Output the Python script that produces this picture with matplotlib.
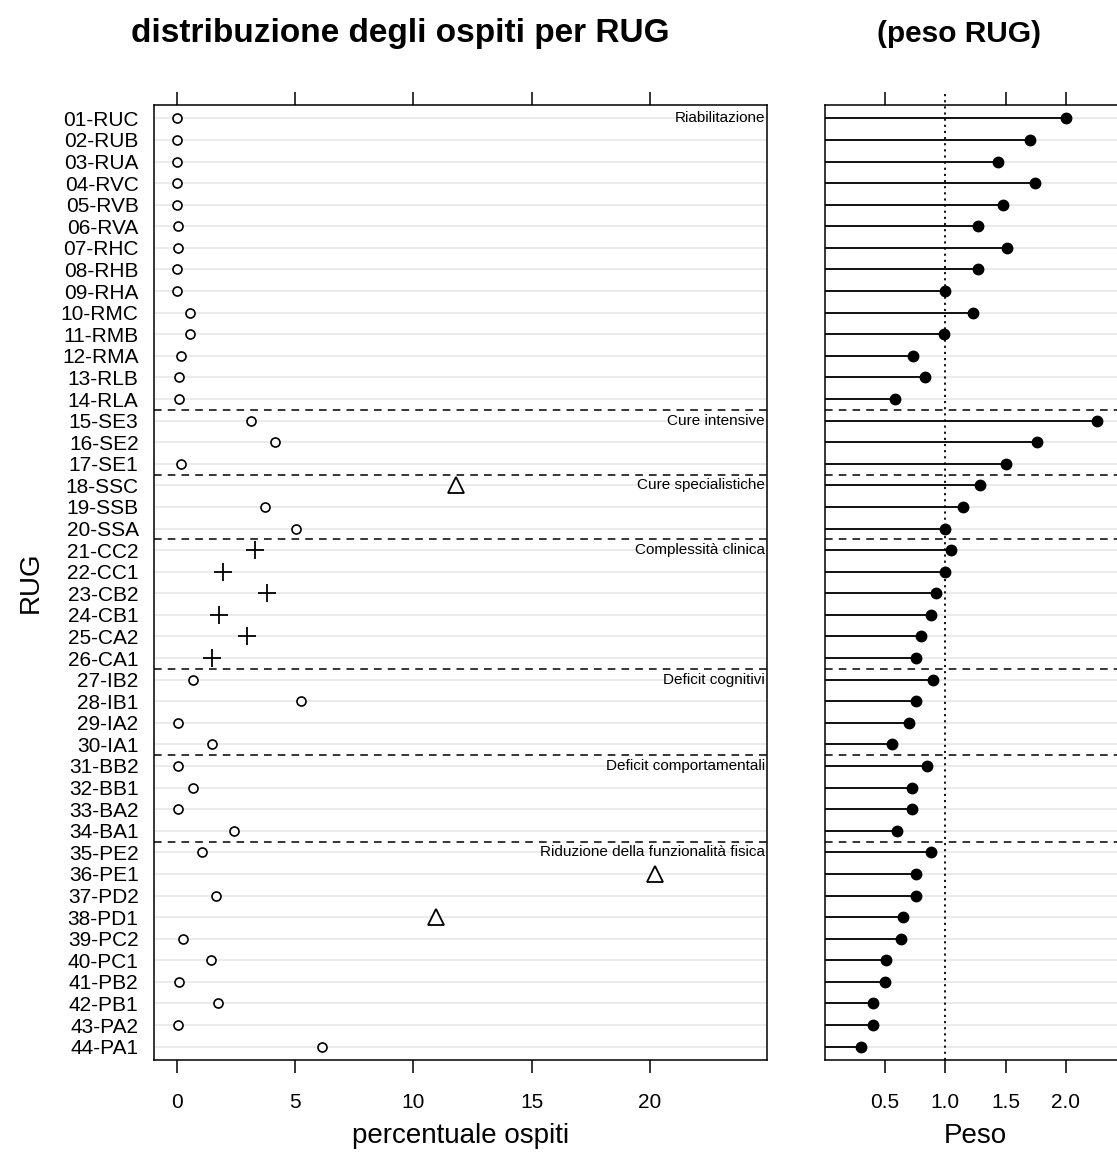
import matplotlib.pyplot as plt
import numpy as np

plt.rcParams['font.family'] = ['Liberation Sans', 'DejaVu Sans']

rug = ['01-RUC', '02-RUB', '03-RUA', '04-RVC', '05-RVB', '06-RVA', '07-RHC', '08-RHB',
       '09-RHA', '10-RMC', '11-RMB', '12-RMA', '13-RLB', '14-RLA', '15-SE3', '16-SE2',
       '17-SE1', '18-SSC', '19-SSB', '20-SSA', '21-CC2', '22-CC1', '23-CB2', '24-CB1',
       '25-CA2', '26-CA1', '27-IB2', '28-IB1', '29-IA2', '30-IA1', '31-BB2', '32-BB1',
       '33-BA2', '34-BA1', '35-PE2', '36-PE1', '37-PD2', '38-PD1', '39-PC2', '40-PC1',
       '41-PB2', '42-PB1', '43-PA2', '44-PA1']

percentuale = [0.0, 0.0, 0.0, 0.0, 0.0, 0.05, 0.05, 0.0, 0.0, 0.55, 0.55, 0.19, 0.12, 0.12,
               3.13, 4.16, 0.19, 11.8, 3.72, 5.06, 3.31, 1.95, 3.83, 1.80, 2.96, 1.50,
               0.71, 5.27, 0.06, 1.51, 0.05, 0.71, 0.05, 2.41, 1.07, 20.2, 1.66, 10.97,
               0.27, 1.44, 0.12, 1.74, 0.05, 6.14]

peso = [2.00, 1.70, 1.44, 1.74, 1.48, 1.27, 1.51, 1.27, 1.00, 1.23, 0.99, 0.73, 0.83, 0.58,
        2.26, 1.76, 1.50, 1.29, 1.15, 1.00, 1.05, 1.00, 0.92, 0.88, 0.80, 0.76, 0.90,
        0.76, 0.70, 0.56, 0.85, 0.72, 0.72, 0.60, 0.88, 0.76, 0.76, 0.65, 0.63, 0.51,
        0.50, 0.40, 0.40, 0.30]

gruppi = ['Riabilitazione', 'Cure intensive', 'Cure specialistiche', 'Complessità clinica',
          'Deficit cognitivi', 'Deficit comportamentali', 'Riduzione della funzionalità fisica']
inizio_gruppi = [1, 15, 18, 21, 27, 31, 35]

n = len(rug)
y = np.arange(1, n + 1)

fig = plt.figure(figsize=(11.17, 11.60), dpi=100)
ax1 = fig.add_axes([0.1377, 0.0862, 0.549, 0.8233])
ax2 = fig.add_axes([0.7384, 0.0862, 0.2699, 0.8233])

grigio = '#e6e6e6'
for ax in (ax1, ax2):
    for yy in y:
        ax.axhline(yy, color=grigio, lw=1.1, zorder=0)
    for g in inizio_gruppi[1:]:
        ax.axhline(g - 0.5, color='black', lw=1.1, ls=(0, (5, 4)), zorder=1)
    ax.set_ylim(n + 0.62, 0.38)
    for s in ax.spines.values():
        s.set_linewidth(1.1)
    ax.tick_params(axis='x', which='both', top=True, bottom=True, length=9.5,
                   width=1.1, labelsize=15, pad=14)
    ax.tick_params(axis='y', length=0, labelsize=15, pad=11)

# pannello sinistro
cc = inizio_gruppi[3]
cc_fine = inizio_gruppi[4]
for yy, v in zip(y, percentuale):
    if cc <= yy < cc_fine:
        ax1.plot(v, yy, marker='+', ms=13, mew=1.3, color='black', ls='none', zorder=3)
    elif v > 10:
        ax1.plot(v, yy, marker='^', ms=11, mew=1.3, mfc='white', mec='black', ls='none', zorder=3)
    else:
        ax1.plot(v, yy, marker='o', ms=6.5, mew=1.2, mfc='white', mec='black', ls='none', zorder=3)

ax1.set_xlim(-0.96, 24.94)
ax1.set_xticks([0, 5, 10, 15, 20])
ax1.set_yticks(y)
ax1.set_yticklabels(rug)
ax1.set_xlabel('percentuale ospiti', fontsize=20, labelpad=8.5)
ax1.set_ylabel('RUG', fontsize=20, labelpad=12)

for nome, g in zip(gruppi, inizio_gruppi):
    ax1.text(24.85, g, nome, ha='right', va='center', fontsize=11)

# pannello destro
ax2.hlines(y, 0, peso, color='black', lw=1.3, zorder=2)
ax2.plot(peso, y, 'o', color='black', ms=7.5, zorder=3)
ax2.axvline(1.0, ymin=0, ymax=1 + 13 / 955, color='black', lw=1.3, ls=(0, (1.2, 2.2)),
            clip_on=False, zorder=2)
ax2.set_xlim(0, 2.5)
ax2.set_xticks([0.5, 1.0, 1.5, 2.0, 2.5])
ax2.set_xticklabels(['0.5', '1.0', '1.5', '2.0', ''])
ax2.xaxis.get_major_ticks()[1].tick2line.set_visible(False)
ax2.set_yticks([])
ax2.set_xlabel('Peso', fontsize=20, labelpad=8.5)

fig.text(0.358, 0.9707, 'distribuzione degli ospiti per RUG', ha='center', va='center',
         fontsize=24, fontweight='bold')
fig.text(0.8586, 0.9707, '(peso RUG)', ha='center', va='center',
         fontsize=21.5, fontweight='bold')

fig.savefig('out.png', dpi=100)
